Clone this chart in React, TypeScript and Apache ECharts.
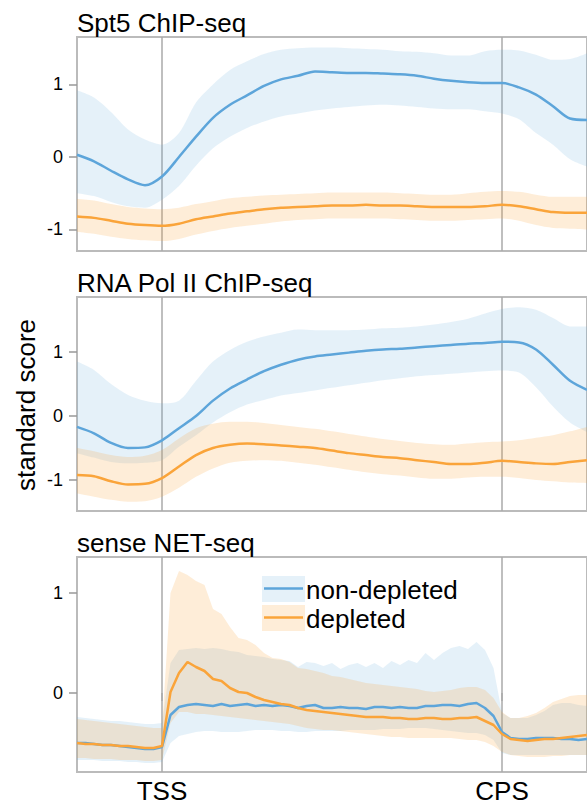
import React, { useEffect, useRef } from 'react';
import * as echarts from 'echarts';

// x positions: 0 = TSS, 1 = CPS (scaled gene body)
const chipX = [
  -0.25, -0.2, -0.15, -0.1, -0.05, 0, 0.05, 0.1, 0.15, 0.2,
  0.25, 0.3, 0.35, 0.4, 0.45, 0.5, 0.55, 0.6, 0.65, 0.7,
  0.75, 0.8, 0.85, 0.9, 0.95, 1, 1.05, 1.1, 1.15, 1.2,
  1.25,
];
const netX = [
  -0.25, -0.225, -0.2, -0.175, -0.15, -0.125, -0.1, -0.075, -0.05, -0.025,
  0, 0.025, 0.05, 0.075, 0.1, 0.125, 0.15, 0.175, 0.2, 0.225,
  0.25, 0.275, 0.3, 0.325, 0.35, 0.375, 0.4, 0.425, 0.45, 0.475,
  0.5, 0.525, 0.55, 0.575, 0.6, 0.625, 0.65, 0.675, 0.7, 0.725,
  0.75, 0.775, 0.8, 0.825, 0.85, 0.875, 0.9, 0.925, 0.95, 0.975,
  1, 1.025, 1.05, 1.075, 1.1, 1.125, 1.15, 1.175, 1.2, 1.225,
  1.25,
];
const xTickValues = [0, 1];
const xTickLabels = ['TSS', 'CPS'];
const yTickValues = [-1, 0, 1];

const panelTitles = ['Spt5 ChIP-seq', 'RNA Pol II ChIP-seq', 'sense NET-seq'];
const seriesNames = ['non-depleted', 'depleted'];
const yAxisTitle = 'standard score';

// ---- Spt5 ChIP-seq ----
const spt5Blue = [
  0.03, -0.06, -0.19, -0.31, -0.39, -0.27, 0.0, 0.28, 0.54, 0.72,
  0.85, 0.98, 1.07, 1.12, 1.18, 1.17, 1.16, 1.16, 1.15, 1.14,
  1.12, 1.08, 1.05, 1.03, 1.02, 1.02, 0.96, 0.86, 0.7, 0.53,
  0.51,
];
const spt5BlueHi = [
  0.92, 0.82, 0.62, 0.38, 0.24, 0.17, 0.33, 0.75, 1.0, 1.2,
  1.32, 1.42, 1.48, 1.5, 1.51, 1.51, 1.5, 1.49, 1.48, 1.46,
  1.45, 1.43, 1.4, 1.4, 1.46, 1.48, 1.47, 1.41, 1.34, 1.35,
  1.43,
];
const spt5BlueLo = [
  -0.5, -0.54, -0.62, -0.68, -0.7, -0.59, -0.4, -0.12, 0.12, 0.28,
  0.4, 0.49, 0.56, 0.6, 0.64, 0.67, 0.69, 0.71, 0.72, 0.71,
  0.69, 0.67, 0.66, 0.66, 0.63, 0.6, 0.52, 0.33, 0.17, -0.03,
  -0.13,
];
const spt5Orange = [
  -0.82, -0.84, -0.88, -0.92, -0.94, -0.95, -0.92, -0.86, -0.82, -0.78,
  -0.75, -0.72, -0.7, -0.69, -0.68, -0.67, -0.67, -0.66, -0.67, -0.67,
  -0.68, -0.69, -0.69, -0.69, -0.68, -0.66, -0.68, -0.72, -0.76, -0.77,
  -0.77,
];
const spt5OrangeHi = [
  -0.58, -0.6, -0.65, -0.69, -0.71, -0.72, -0.7, -0.65, -0.61, -0.57,
  -0.55, -0.53, -0.52, -0.51, -0.5, -0.49, -0.49, -0.49, -0.49, -0.5,
  -0.51, -0.52, -0.52, -0.5, -0.48, -0.47, -0.48, -0.52, -0.55, -0.55,
  -0.55,
];
const spt5OrangeLo = [
  -1.03, -1.06, -1.1, -1.13, -1.15, -1.16, -1.13, -1.07, -1.02, -0.98,
  -0.95, -0.92, -0.89, -0.87, -0.86, -0.85, -0.85, -0.85, -0.85, -0.86,
  -0.87, -0.88, -0.88, -0.87, -0.86, -0.85, -0.88, -0.94, -0.98, -0.99,
  -1.0,
];

// ---- RNA Pol II ChIP-seq ----
const polBlue = [
  -0.17, -0.27, -0.42, -0.5, -0.49, -0.38, -0.19, 0.0, 0.24, 0.43,
  0.57, 0.7, 0.8, 0.88, 0.93, 0.96, 0.99, 1.02, 1.04, 1.05,
  1.07, 1.09, 1.11, 1.13, 1.14, 1.16, 1.15, 1.04, 0.8, 0.55,
  0.41,
];
const polBlueHi = [
  0.85, 0.72, 0.5, 0.33, 0.24, 0.2, 0.24, 0.55, 0.85, 1.03,
  1.16, 1.24, 1.3, 1.35, 1.34, 1.34, 1.34, 1.35, 1.37, 1.38,
  1.4, 1.43, 1.47, 1.52, 1.6, 1.67, 1.7, 1.66, 1.53, 1.4,
  1.4,
];
const polBlueLo = [
  -0.58, -0.65, -0.72, -0.74, -0.73, -0.69, -0.48, -0.3, -0.1, 0.06,
  0.18, 0.25, 0.32, 0.36, 0.4, 0.44, 0.48, 0.52, 0.56, 0.59,
  0.62, 0.64, 0.66, 0.68, 0.7, 0.71, 0.68, 0.45, 0.15, -0.1,
  -0.25,
];
const polOrange = [
  -0.92, -0.94, -1.02, -1.07, -1.06, -0.97, -0.79, -0.61, -0.5, -0.45,
  -0.43, -0.44, -0.46, -0.48, -0.5, -0.54, -0.58, -0.61, -0.64, -0.66,
  -0.69, -0.72, -0.75, -0.75, -0.73, -0.7, -0.72, -0.74, -0.75, -0.72,
  -0.69,
];
const polOrangeHi = [
  -0.5, -0.55, -0.61, -0.64, -0.62, -0.53, -0.35, -0.19, -0.12, -0.09,
  -0.09, -0.11, -0.14, -0.17, -0.2, -0.24, -0.28, -0.32, -0.36, -0.39,
  -0.42, -0.44, -0.45, -0.43, -0.41, -0.4, -0.38, -0.34, -0.3, -0.24,
  -0.17,
];
const polOrangeLo = [
  -1.21, -1.26, -1.31, -1.34, -1.33, -1.26, -1.12, -0.95, -0.82, -0.73,
  -0.7, -0.69, -0.7, -0.73, -0.76, -0.8, -0.84, -0.88, -0.91, -0.93,
  -0.96, -0.98, -0.98, -0.96, -0.95, -0.95, -0.97, -1.0, -1.02, -1.04,
  -1.05,
];

// ---- sense NET-seq ----
const netBlue = [
  -0.5, -0.5, -0.51, -0.52, -0.52, -0.53, -0.54, -0.55, -0.56, -0.56,
  -0.54, -0.22, -0.14, -0.12, -0.11, -0.12, -0.13, -0.11, -0.13, -0.12,
  -0.11, -0.13, -0.12, -0.13, -0.12, -0.13, -0.15, -0.13, -0.12, -0.15,
  -0.15, -0.14, -0.15, -0.15, -0.16, -0.14, -0.14, -0.15, -0.14, -0.15,
  -0.15, -0.13, -0.13, -0.12, -0.12, -0.13, -0.11, -0.1, -0.15, -0.23,
  -0.39, -0.45, -0.46, -0.46, -0.45, -0.45, -0.45, -0.46, -0.46, -0.47,
  -0.46,
];
const netBlueHi = [
  -0.24, -0.25, -0.26, -0.27, -0.28, -0.28, -0.29, -0.3, -0.31, -0.31,
  -0.3, 0.3, 0.43, 0.44, 0.45, 0.44, 0.45, 0.44, 0.42, 0.41,
  0.38, 0.37, 0.36, 0.34, 0.33, 0.32, 0.26, 0.31, 0.3, 0.27,
  0.3, 0.24, 0.28, 0.3, 0.26, 0.3, 0.25, 0.32, 0.28, 0.33,
  0.3, 0.4, 0.33, 0.4, 0.45, 0.47, 0.44, 0.51, 0.43, 0.25,
  -0.2, -0.25, -0.25, -0.25, -0.22, -0.18, -0.12, -0.1, -0.1, -0.12,
  -0.13,
];
const netBlueLo = [
  -0.67, -0.67, -0.67, -0.68, -0.68, -0.68, -0.69, -0.69, -0.7, -0.7,
  -0.69, -0.5, -0.43, -0.41, -0.39, -0.38, -0.38, -0.39, -0.39, -0.39,
  -0.38, -0.37, -0.37, -0.37, -0.38, -0.38, -0.39, -0.39, -0.38, -0.38,
  -0.38, -0.38, -0.37, -0.37, -0.37, -0.37, -0.36, -0.36, -0.36, -0.35,
  -0.35, -0.35, -0.36, -0.37, -0.38, -0.39, -0.4, -0.4, -0.42, -0.47,
  -0.6, -0.62, -0.62, -0.62, -0.62, -0.62, -0.62, -0.62, -0.62, -0.62,
  -0.62,
];
const netOrange = [
  -0.5, -0.51, -0.51, -0.52, -0.52, -0.53, -0.53, -0.54, -0.55, -0.55,
  -0.53, 0.01, 0.2, 0.31, 0.26, 0.22, 0.14, 0.12, 0.05, 0.01,
  0.0, -0.04, -0.07, -0.09, -0.11, -0.12, -0.15, -0.17, -0.18, -0.19,
  -0.2, -0.21, -0.22, -0.23, -0.24, -0.24, -0.24, -0.25, -0.25, -0.26,
  -0.26, -0.25, -0.25, -0.26, -0.26, -0.25, -0.25, -0.24, -0.28, -0.32,
  -0.41, -0.46, -0.47, -0.48, -0.47, -0.46, -0.46, -0.45, -0.44, -0.43,
  -0.42,
];
const netOrangeHi = [
  -0.26, -0.27, -0.28, -0.29, -0.3, -0.31, -0.32, -0.33, -0.34, -0.35,
  -0.35, 1.0, 1.22, 1.18, 1.12, 1.08, 0.84, 0.79, 0.66, 0.55,
  0.53, 0.48, 0.4, 0.35, 0.34, 0.31, 0.25, 0.24, 0.22, 0.2,
  0.17, 0.16, 0.14, 0.12, 0.1, 0.09, 0.08, 0.07, 0.06, 0.05,
  0.04, 0.02, 0.01, 0.02, 0.03, 0.05, 0.06, 0.06, 0.03, -0.05,
  -0.19, -0.25, -0.25, -0.23, -0.2, -0.15, -0.09, -0.06, -0.03, -0.02,
  -0.02,
];
const netOrangeLo = [
  -0.65, -0.65, -0.66, -0.66, -0.66, -0.67, -0.67, -0.67, -0.68, -0.68,
  -0.67, -0.3, -0.19, -0.19, -0.21, -0.21, -0.22, -0.23, -0.24, -0.25,
  -0.26, -0.27, -0.28, -0.29, -0.3, -0.31, -0.33, -0.35, -0.36, -0.37,
  -0.37, -0.38, -0.39, -0.4, -0.41, -0.42, -0.43, -0.44, -0.44, -0.45,
  -0.45, -0.45, -0.45, -0.45, -0.45, -0.46, -0.47, -0.47, -0.49, -0.53,
  -0.59, -0.62, -0.63, -0.64, -0.64, -0.64, -0.63, -0.63, -0.62, -0.62,
  -0.62,
];

const BLUE = '#5DA5DA';
const ORANGE = '#FAA43A';
const BLUE_BAND = 'rgba(93,165,218,0.16)';
const ORANGE_BAND = 'rgba(250,164,58,0.2)';
const FONT = '"Liberation Sans", Arial, Helvetica, sans-serif';
const TEXT = '#000';
const BIG = 26;

const panels = [
  {
    title: panelTitles[0], x: chipX,
    blue: spt5Blue, blueHi: spt5BlueHi, blueLo: spt5BlueLo,
    orange: spt5Orange, orangeHi: spt5OrangeHi, orangeLo: spt5OrangeLo,
    min: -1.297, max: 1.655, top: 37, height: 214, smooth: 0.3,
  },
  {
    title: panelTitles[1], x: chipX,
    blue: polBlue, blueHi: polBlueHi, blueLo: polBlueLo,
    orange: polOrange, orangeHi: polOrangeHi, orangeLo: polOrangeLo,
    min: -1.484, max: 1.859, top: 297, height: 214, smooth: 0.3,
  },
  {
    title: panelTitles[2], x: netX,
    blue: netBlue, blueHi: netBlueHi, blueLo: netBlueLo,
    orange: netOrange, orangeHi: netOrangeHi, orangeLo: netOrangeLo,
    min: -0.79, max: 1.36, top: 557, height: 215, smooth: false as any,
  },
];

function bandSeries(idx: number, lo: number[], hi: number[], color: string, stack: string, smooth: any) {
  const common = {
    type: 'line', xAxisIndex: idx, yAxisIndex: idx, stack, stackStrategy: 'all',
    symbol: 'none', silent: true, smooth, lineStyle: { opacity: 0, width: 0 },
    emphasis: { disabled: true },
  };
  return [
    { ...common, data: lo },
    { ...common, data: hi.map((v, i) => +(v - lo[i]).toFixed(4)), areaStyle: { color, opacity: 1 } },
  ];
}

function lineSeries(idx: number, data: number[], color: string, smooth: any) {
  return {
    type: 'line', xAxisIndex: idx, yAxisIndex: idx, data, symbol: 'none', silent: true,
    smooth, lineStyle: { color, width: 2.5 }, emphasis: { disabled: true },
  };
}

export default function App() {
  const ref = useRef<HTMLDivElement>(null);
  useEffect(() => {
    if (!ref.current) return;
    const chart = echarts.init(ref.current, null, { renderer: 'svg' });

    const grids: any[] = [];
    const xAxes: any[] = [];
    const yAxes: any[] = [];
    const series: any[] = [];
    const graphic: any[] = [];

    panels.forEach((p, i) => {
      const tickIdx = xTickValues.map((v) => p.x.indexOf(v));
      const isTick = (idx: number) => tickIdx.indexOf(idx) >= 0;
      const last = i === panels.length - 1;
      grids.push({
        left: 77, top: p.top, width: 511, height: p.height,
        show: true, borderColor: '#bbb', borderWidth: 2, backgroundColor: 'transparent',
      });
      xAxes.push({
        type: 'category', gridIndex: i, data: p.x, boundaryGap: false,
        axisLine: { show: false },
        axisTick: { show: last, interval: (idx: number) => isTick(idx), length: 8, lineStyle: { color: '#aaa', width: 1.5 } },
        axisLabel: {
          show: last, interval: (idx: number) => isTick(idx),
          formatter: (_v: any, idx: number) => {
            const k = tickIdx.indexOf(idx);
            return k >= 0 ? xTickLabels[k] : '';
          },
          fontSize: BIG, color: TEXT, margin: 6, fontFamily: FONT,
        },
        splitLine: { show: true, interval: (idx: number) => isTick(idx), lineStyle: { color: '#aaa', width: 1.5 } },
      });
      const yt = yTickValues.filter((v) => v >= p.min && v <= p.max);
      yAxes.push({
        type: 'value', gridIndex: i, min: p.min, max: p.max,
        axisLine: { show: false }, splitLine: { show: false },
        axisTick: { show: true, customValues: yt, length: 8, lineStyle: { color: '#999', width: 1.5 } },
        axisLabel: { customValues: yt, fontSize: 18, color: TEXT, margin: 14, fontFamily: FONT },
      });
      series.push(...bandSeries(i, p.blueLo, p.blueHi, BLUE_BAND, 'b' + i, p.smooth));
      series.push(...bandSeries(i, p.orangeLo, p.orangeHi, ORANGE_BAND, 'o' + i, p.smooth));
      series.push(lineSeries(i, p.blue, BLUE, p.smooth));
      series.push(lineSeries(i, p.orange, ORANGE, p.smooth));
      graphic.push({
        type: 'text', x: 77, y: p.top - 14,
        style: { text: p.title, font: `${BIG}px ${FONT}`, fill: TEXT, align: 'left', verticalAlign: 'middle' },
      });
    });

    graphic.push({
      type: 'text', x: 26, y: 405, rotation: Math.PI / 2,
      style: { text: yAxisTitle, font: `${BIG}px ${FONT}`, fill: TEXT, align: 'center', verticalAlign: 'middle' },
    });
    // legend
    const legendItems = [
      { name: seriesNames[0], band: BLUE_BAND, line: BLUE, y: 576 },
      { name: seriesNames[1], band: ORANGE_BAND, line: ORANGE, y: 605 },
    ];
    legendItems.forEach((it) => {
      graphic.push({ type: 'rect', shape: { x: 262, y: it.y, width: 43, height: 26 }, style: { fill: it.band } });
      graphic.push({ type: 'line', shape: { x1: 264, y1: it.y + 12.5, x2: 303, y2: it.y + 12.5 }, style: { stroke: it.line, lineWidth: 2.5 } });
      graphic.push({
        type: 'text', x: 306, y: it.y + 14,
        style: { text: it.name, font: `${BIG}px ${FONT}`, fill: TEXT, align: 'left', verticalAlign: 'middle' },
      });
    });

    chart.setOption({
      animation: false,
      grid: grids,
      xAxis: xAxes,
      yAxis: yAxes,
      series,
      graphic,
    });
    return () => chart.dispose();
  }, []);

  return <div ref={ref} style={{ position: 'absolute', left: 0, top: 0, width: 587, height: 805, background: '#fff' }} />;
}
